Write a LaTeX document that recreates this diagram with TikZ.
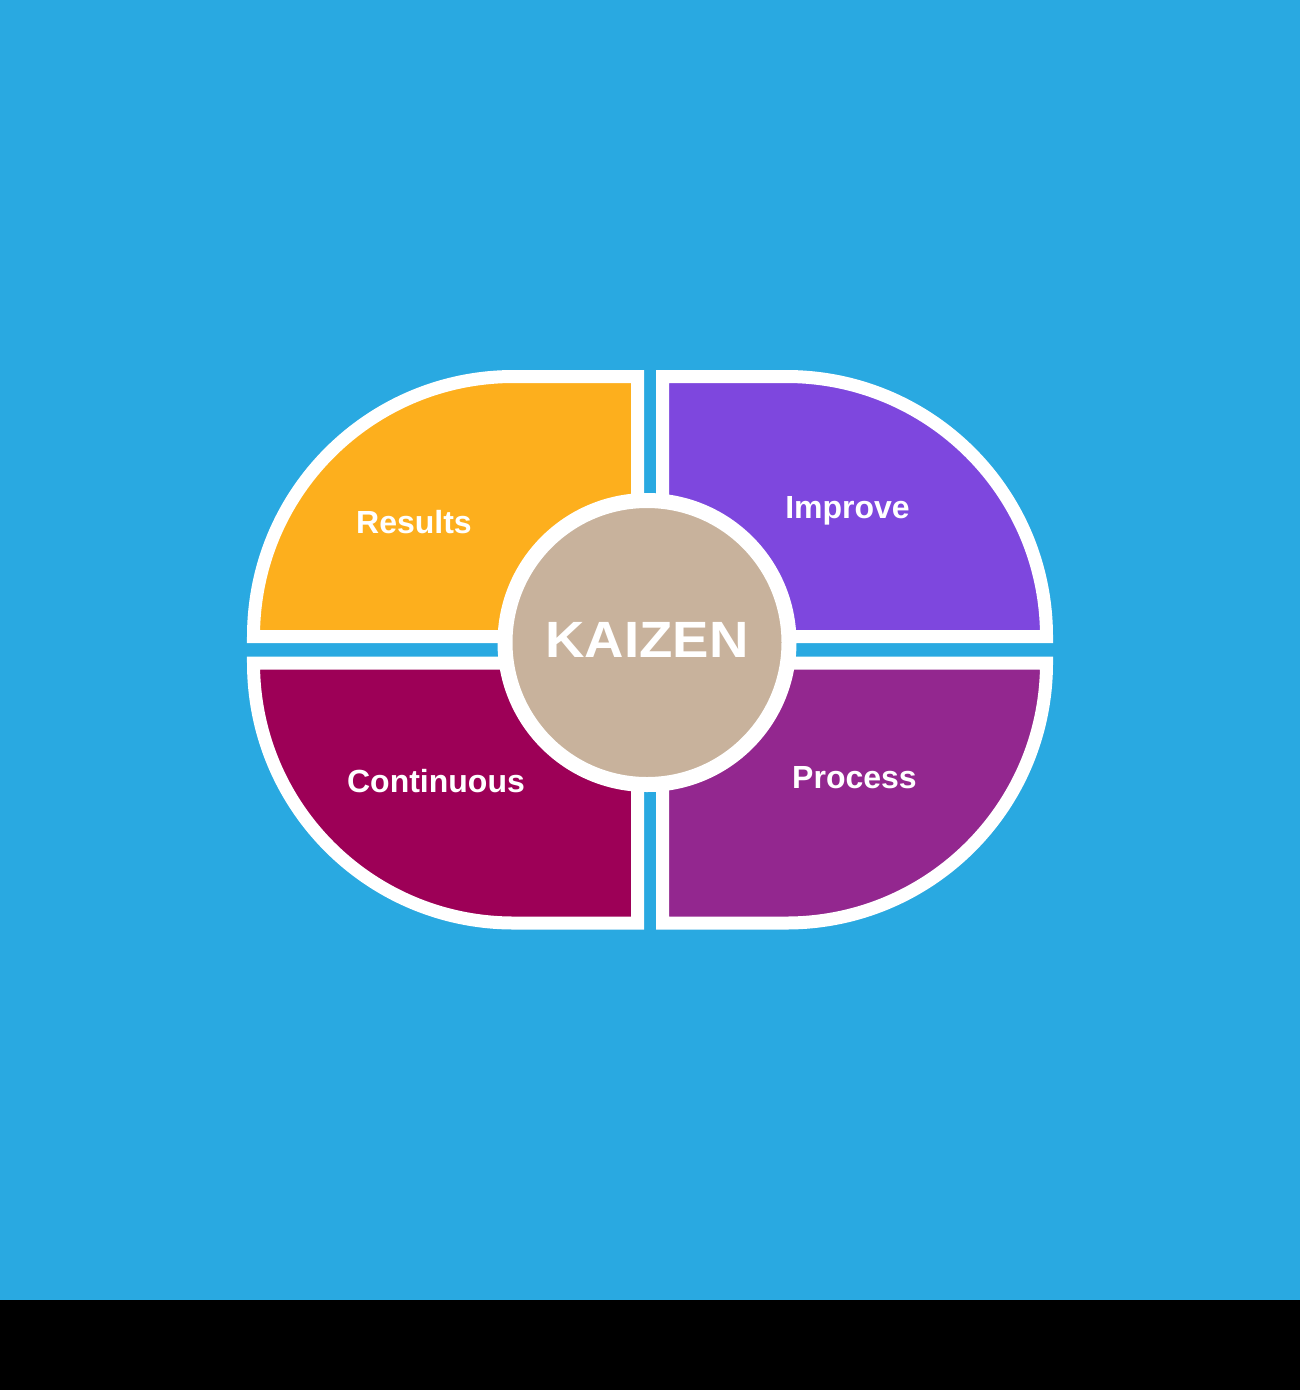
\documentclass[tikz,border=0pt]{standalone}
\usepackage{fontspec}
\setmainfont{Liberation Sans}
\definecolor{bgblue}{HTML}{29A9E1}
\definecolor{qorange}{HTML}{FDAF1D}
\definecolor{qviolet}{HTML}{7E47DE}
\definecolor{qcrimson}{HTML}{9D0057}
\definecolor{qplum}{HTML}{93278F}
\definecolor{qtan}{HTML}{C8B29C}
\begin{document}
\begin{tikzpicture}[x=1pt,y=-1pt,
  quad/.style={draw=white,line width=13pt,line join=miter},
  lbl/.style={text=white,font=\fontsize{32}{36}\selectfont\bfseries,anchor=base,inner sep=0pt},
  hub/.style={circle,fill=qtan,draw=white,line width=15pt,minimum size=284pt,inner sep=0pt}]
\useasboundingbox (0,0) rectangle (1300,1390);
\fill[bgblue] (0,0) rectangle (1300,1300);
\fill[black] (0,1300) rectangle (1300,1390);
% quadrants
\path[quad,fill=qorange] (637.5,636.5) -- (253.5,636.5) arc[start angle=180,end angle=270,radius=260] -- (637.5,376.5) -- cycle;
\path[quad,fill=qviolet] (662.5,636.5) -- (1046.5,636.5) arc[start angle=0,end angle=-90,radius=260] -- (662.5,376.5) -- cycle;
\path[quad,fill=qcrimson] (637.5,663) -- (253.5,663) arc[start angle=180,end angle=90,radius=260] -- (637.5,923) -- cycle;
\path[quad,fill=qplum] (662.5,663) -- (1046.5,663) arc[start angle=0,end angle=90,radius=260] -- (662.5,923) -- cycle;
% hub
\node[hub] (kaizen) at (647,642.5) {};
\node[text=white,font=\fontsize{51}{56}\selectfont\bfseries,anchor=base,inner sep=0pt,xscale=1.07] (kaizenlbl) at (647,657) {KAIZEN};
% labels
\node[lbl] (results) at (414,533) {Results};
\node[lbl] (improve) at (847.5,518) {Improve};
\node[lbl] (continuous) at (436,792) {Continuous};
\node[lbl] (process) at (854.5,788) {Process};
\end{tikzpicture}
\end{document}
